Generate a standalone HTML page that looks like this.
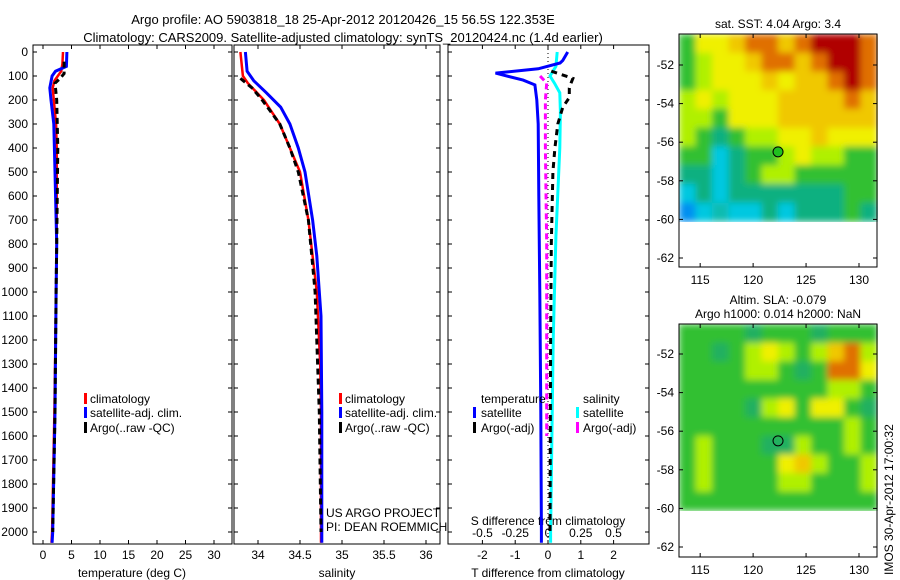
<!DOCTYPE html>
<html><head><meta charset="utf-8"><style>
html,body{margin:0;padding:0;background:#fff;}
svg{display:block;font-family:"Liberation Sans",Arial,sans-serif;}
text{font-size:12px;fill:#000;}
</style></head><body>
<svg id="c" width="900" height="580" viewBox="0 0 900 580">
<defs>
<filter id="bl" x="0" y="0" width="1" height="1"><feGaussianBlur stdDeviation="3.5" edgeMode="duplicate"/></filter>
</defs>
<text x="343" y="24" text-anchor="middle" style="font-size:13px">Argo profile: AO 5903818_18 25-Apr-2012 20120426_15 56.5S 122.353E</text>
<text x="343" y="42" text-anchor="middle" style="font-size:13px">Climatology: CARS2009. Satellite-adjusted climatology: synTS_20120424.nc (1.4d earlier)</text>
<g id="g"></g>
</svg>
<script>
// ---- data ----
const depthTicks=[0,100,200,300,400,500,600,700,800,900,1000,1100,1200,1300,1400,1500,1600,1700,1800,1900,2000];
const tempTicks=[0,5,10,15,20,25,30];
const salTicks=[34,34.5,35,35.5,36];
const tdTicks=[-2,-1,0,1,2];
const sdTicks=[-0.5,-0.25,0,0.25,0.5];
const lonTicks=[115,120,125,130];
const latTicks=[-52,-54,-56,-58,-60,-62];

const tClimD=[0,50,80,100,120,150,200,300,400,600,800,1000,1500,2000,2045];
const tClimV=[3.5,3.4,3.2,2.6,2.0,1.7,1.9,2.3,2.4,2.4,2.4,2.3,2.0,1.6,1.5];
const tSatD=[0,60,80,100,150,200,300,500,800,1000,1500,2000,2045];
const tSatV=[4.2,4.1,2.2,1.6,1.2,1.4,1.9,2.1,2.4,2.3,2.1,1.7,1.6];
const tArgoD=[40,90,110,130,200,400,800,1000,1500,2000];
const tArgoV=[3.7,3.7,3.0,2.1,2.4,2.6,2.4,2.3,2.1,1.7];

const sClimD=[0,100,130,200,300,400,500,700,850,1000,1300,1500,2000,2045];
const sClimV=[33.79,33.82,33.88,34.07,34.26,34.38,34.5,34.6,34.65,34.7,34.74,34.75,34.75,34.75];
const sSatD=[0,80,120,170,230,300,400,500,700,850,1100,1500,2000,2045];
const sSatV=[33.85,33.87,33.95,34.1,34.27,34.38,34.48,34.56,34.65,34.7,34.75,34.76,34.76,34.76];
const sArgoD=[110,150,200,300,400,500,700,850,1000,1500,2000];
const sArgoV=[33.79,33.93,34.05,34.26,34.38,34.48,34.6,34.64,34.68,34.73,34.75];

const dTSatD=[0,35,46,70,88,117,137,200,300,600,1000,1500,2000,2045];
const dTSatV=[0.6,0.45,0.37,-0.3,-1.6,-0.76,-0.4,-0.34,-0.3,-0.28,-0.25,-0.22,-0.2,-0.2];
const dSSatD=[0,60,100,130,170,250,400,770,1200,2000,2045];
const dSSatV=[0.07,0.06,0.015,0.05,0.09,0.095,0.09,0.06,0.04,0.02,0.02];
const dSArgoD=[100,130,200,400,800,1200,1600];
const dSArgoV=[-0.06,-0.01,-0.02,-0.02,-0.01,-0.01,-0.01];
const dTArgoD=[80,110,130,150,190,230,300,400,500,800,1200,2000];
const dTArgoV=[0.1,0.76,0.7,0.65,0.65,0.45,0.3,0.21,0.15,0.1,0.08,0.06];

const sstGrid=[
[4,6,6,7,8,8,7,8,9,9,9,8],
[4,5,6,6,7,8,8,7,8,9,9,8],
[4,5,6,6,6,7,6,7,7,8,9,8],
[5,6,5,6,6,6,7,7,7,7,8,7],
[5,5,4,6,6,6,7,7,7,7,7,7],
[5,4,3,4,5,5,6,6,7,6,6,6],
[4,4,2,3,4,4,5,6,5,5,4,4],
[3,3,2,3,4,5,5,4,4,4,4,4],
[2,3,2,3,3,3,3,3,3,3,4,4],
[1,2,2.5,2,2,3,2,3,3,3,4,3]];
const slaGrid=[
[4,4,4,4,3.5,4,4,4,3.5,4,4,4],
[4,4,3.5,4,5,6,5,4,5,7,8,5],
[4,4,4,4,5,5,4,3.5,4,8,8,6],
[4,4,4,4,4,4,4,4,4,5,5,4],
[4,4,4,4,3.5,5,6,4,6,6,4,3.5],
[4,4,4,4,4,4,4,4,4,4,5,4],
[4,5,4,4,4,3.5,3.5,5,4,4,5,4],
[4,5,4,4,4,4,6,7,5,4,4,5],
[4,5,4,4,4,4,5,5,4,4,4,5],
[4,4,4,4,4,4,4,4,4,4,4,4]];
const floatLon=122.353, floatLat=-56.5;

// ---- helpers ----
const NS="http://www.w3.org/2000/svg";
const G=document.getElementById('g');
function mk(tag,attrs,parent){const e=document.createElementNS(NS,tag);for(const k in attrs)e.setAttribute(k,attrs[k]);(parent||G).appendChild(e);return e;}
function txt(x,y,s,anchor,name){const t=mk('text',{x:x,y:y,'text-anchor':anchor||'start'});t.textContent=s;


return t;}
const Y=d=>52+d*0.24;
const TOP=45,BOT=544;
function frame(x0,x1,name){const r=mk('rect',{x:x0,y:TOP,width:x1-x0,height:BOT-TOP,fill:'none',stroke:'#000','stroke-width':1});

}
function line(xs,ds,sx,color,w,dash,name){
 const pts=xs.map((v,i)=>sx(v).toFixed(1)+','+Y(ds[i]).toFixed(1)).join(' ');
 const p=mk('polyline',{points:pts,fill:'none',stroke:color,'stroke-width':w});
 if(dash)p.setAttribute('stroke-dasharray',dash);
 
 
}
function legendMark(x,y,color,name){const r=mk('rect',{x:x,y:y-10,width:3,height:11,fill:color});

}

// ---- panel 1: temperature ----
const XT=v=>43+v*5.7;
frame(33,232,'temperature-panel');
depthTicks.forEach(d=>{mk('line',{x1:33,x2:37,y1:Y(d),y2:Y(d),stroke:'#000'});mk('line',{x1:228,x2:232,y1:Y(d),y2:Y(d),stroke:'#000'});
 txt(28,Y(d)+4,String(d),'end','depth-tick-label');});
tempTicks.forEach(v=>{mk('line',{x1:XT(v),x2:XT(v),y1:BOT,y2:BOT-4,stroke:'#000'});mk('line',{x1:XT(v),x2:XT(v),y1:TOP,y2:TOP+4,stroke:'#000'});
 txt(XT(v),559,String(v),'middle','temperature-tick-label');});
txt(132,577,'temperature (deg C)','middle','temperature-axis-title');
line(tClimV,tClimD,XT,'#f00',2.5,null,'temp-climatology-line');
line(tSatV,tSatD,XT,'#00f',3,null,'temp-satellite-line');
line(tArgoV,tArgoD,XT,'#000',3,'6,4','temp-argo-line');
legendMark(84,403,'#f00','legend-climatology-marker');txt(90,403,'climatology','start','legend-climatology');
legendMark(84,417,'#00f','legend-satellite-marker');txt(90,417,'satellite-adj. clim.','start','legend-satellite');
legendMark(84,432,'#000','legend-argo-marker');txt(90,432,'Argo(..raw -QC)','start','legend-argo');

// ---- panel 2: salinity ----
const XS=v=>258+(v-34)*84;
frame(234,440,'salinity-panel');
depthTicks.forEach(d=>{mk('line',{x1:234,x2:238,y1:Y(d),y2:Y(d),stroke:'#000'});mk('line',{x1:436,x2:440,y1:Y(d),y2:Y(d),stroke:'#000'});});
salTicks.forEach(v=>{mk('line',{x1:XS(v),x2:XS(v),y1:BOT,y2:BOT-4,stroke:'#000'});mk('line',{x1:XS(v),x2:XS(v),y1:TOP,y2:TOP+4,stroke:'#000'});
 txt(XS(v),559,String(v),'middle','salinity-tick-label');});
txt(337,577,'salinity','middle','salinity-axis-title');
line(sClimV,sClimD,XS,'#f00',2.5,null,'sal-climatology-line');
line(sSatV,sSatD,XS,'#00f',3,null,'sal-satellite-line');
line(sArgoV,sArgoD,XS,'#000',3,'6,4','sal-argo-line');
legendMark(339,403,'#f00','legend2-climatology-marker');txt(345,403,'climatology','start','legend2-climatology');
legendMark(339,417,'#00f','legend2-satellite-marker');txt(345,417,'satellite-adj. clim.','start','legend2-satellite');
legendMark(339,432,'#000','legend2-argo-marker');txt(345,432,'Argo(..raw -QC)','start','legend2-argo');
txt(326,517,'US ARGO PROJECT','start','project-credit');
txt(326,531,'PI: DEAN ROEMMICH','start','pi-credit');

// ---- panel 3: differences ----
const XD=v=>548+v*32.8;
const XSD=v=>548+v*131;
frame(448,649,'difference-panel');
depthTicks.forEach(d=>{mk('line',{x1:448,x2:452,y1:Y(d),y2:Y(d),stroke:'#000'});mk('line',{x1:645,x2:649,y1:Y(d),y2:Y(d),stroke:'#000'});});
tdTicks.forEach(v=>{mk('line',{x1:XD(v),x2:XD(v),y1:BOT,y2:BOT-4,stroke:'#000'});mk('line',{x1:XD(v),x2:XD(v),y1:TOP,y2:TOP+4,stroke:'#000'});
 txt(XD(v),559,String(v),'middle','tdiff-tick-label');});
sdTicks.forEach(v=>{txt(XSD(v),537,String(v),'middle','sdiff-tick-label');});
txt(548,525,'S difference from climatology','middle','sdiff-axis-title');
txt(548,577,'T difference from climatology','middle','tdiff-axis-title');
const z=mk('line',{x1:XD(0),x2:XD(0),y1:TOP,y2:BOT,stroke:'#000','stroke-dasharray':'1,3'});


line(dSSatV,dSSatD,XSD,'#0ff',3,null,'sdiff-satellite-line');
line(dSArgoV,dSArgoD,XSD,'#f0f',3,'6,4','sdiff-argo-line');
line(dTSatV,dTSatD,XD,'#00f',3,null,'tdiff-satellite-line');
line(dTArgoV,dTArgoD,XD,'#000',3,'6,5','tdiff-argo-line');
txt(481,403,'temperature','start','legend3-temperature-header');
txt(583,403,'salinity','start','legend3-salinity-header');
legendMark(473,417,'#00f','legend3-tsat-marker');txt(481,417,'satellite','start','legend3-tsat');
legendMark(473,432,'#000','legend3-targo-marker');txt(481,432,'Argo(-adj)','start','legend3-targo');
legendMark(576,417,'#0ff','legend3-ssat-marker');txt(583,417,'satellite','start','legend3-ssat');
legendMark(576,432,'#f0f','legend3-sargo-marker');txt(583,432,'Argo(-adj)','start','legend3-sargo');

// ---- maps ----
const stops=[[0,'#0030d8'],[1,'#0090f0'],[2,'#00c8e0'],[3,'#10b080'],[3.5,'#20b060'],[4,'#30c030'],[5,'#b0f000'],[6,'#f0f000'],[7,'#f0c800'],[8,'#e07000'],[9,'#b00000']];
function hex(c){return [1,3,5].map(i=>parseInt(c.substr(i,2),16));}
function cmap(v){for(let i=1;i<stops.length;i++){if(v<=stops[i][0]){const a=stops[i-1],b=stops[i];const t=(v-a[0])/(b[0]-a[0]);
 const A=hex(a[1]),B=hex(b[1]);return 'rgb('+A.map((x,k)=>Math.round(x+(B[k]-x)*t)).join(',')+')';}}return stops[stops.length-1][1];}
function map(top,grid,name,title){
 const L=679,R=877,lonL=113.0,lonR=131.7;
 const X=lon=>L+(lon-lonL)*(R-L)/(lonR-lonL);
 const yAt=lat=>top.y52+(-52-lat)*19.3;
 const latImgB=-60.1;
 const cols=grid[0].length,rows=grid.length;
 const cw=(R-L)/cols, ch=(yAt(latImgB)-top.t)/rows;
 const gg=mk('g',{filter:'url(#bl)'});
 
 
 grid.forEach((row,r)=>row.forEach((v,c)=>{const e=mk('rect',{x:(L+c*cw).toFixed(2),y:(top.t+r*ch).toFixed(2),width:(cw+0.6).toFixed(2),height:(ch+0.6).toFixed(2),fill:cmap(v)},gg);
 
 }));
 const f=mk('rect',{x:L,y:top.t,width:R-L,height:top.b-top.t,fill:'none',stroke:'#000'});
 
 
 latTicks.forEach(l=>{const y=yAt(l);mk('line',{x1:R,x2:R-4,y1:y,y2:y,stroke:'#000'});mk('line',{x1:L,x2:L+4,y1:y,y2:y,stroke:'#000'});txt(L-5,y+4,String(l),'end',name+'-lat-label');});
 lonTicks.forEach(l=>{const x=X(l);mk('line',{x1:x,x2:x,y1:top.b,y2:top.b-4,stroke:'#000'});mk('line',{x1:x,x2:x,y1:top.t,y2:top.t+4,stroke:'#000'});txt(x,top.b+17,String(l),'middle',name+'-lon-label');});
 const c=mk('circle',{cx:X(floatLon),cy:yAt(floatLat),r:5,fill:top.dot,stroke:'#000','stroke-width':1});
 
 
 title.forEach((s,i)=>txt((L+R)/2,top.t-(title.length-1-i)*14-6,s,'middle',name+'-title'));
}
map({t:34,b:267,y52:65,dot:'#20c020'},sstGrid,'sst-map',['sat. SST: 4.04  Argo: 3.4']);
map({t:324,b:557,y52:354,dot:'none'},slaGrid,'sla-map',['Altim. SLA: -0.079','Argo h1000: 0.014 h2000: NaN']);
const im=txt(0,0,'IMOS 30-Apr-2012 17:00:32','start','imos-timestamp');
im.setAttribute('transform','translate(893,575) rotate(-90)');
</script>
</body></html>
